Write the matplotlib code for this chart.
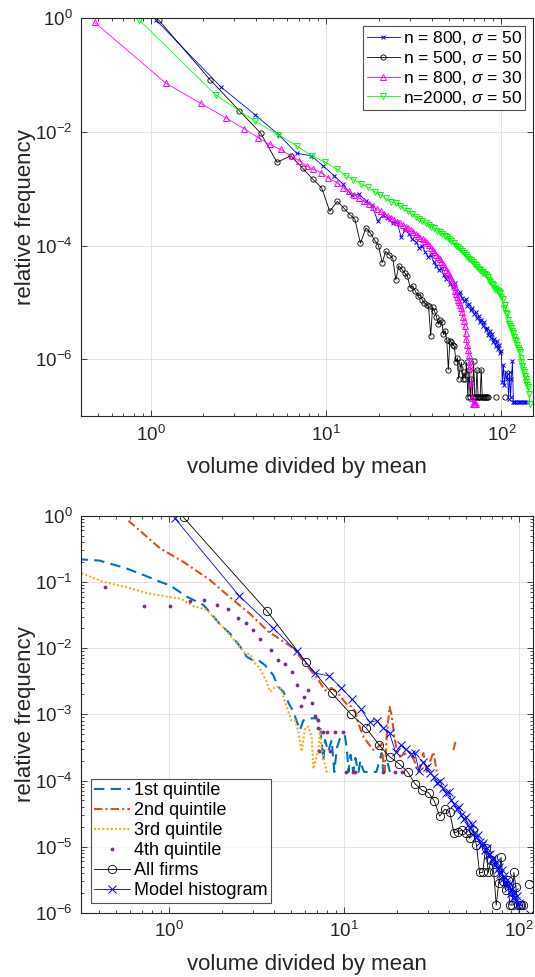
import numpy as np
import matplotlib
matplotlib.use("Agg")
import matplotlib.pyplot as plt
from matplotlib.ticker import LogLocator, NullLocator, NullFormatter

nan = np.nan

# ---- top panel: simulated histograms ----
model_x = [1.08, 2.51, 3.94, 5.37, 6.80, 8.23, 9.66, 11.1, 12.5, 14.0, 15.4, 16.8, 18.2, 19.7, 21.1,
           22.5, 24.0, 25.4, 26.8, 28.3, 29.7, 31.1, 32.6, 34.0, 35.4, 36.8, 38.3, 39.7, 41.1, 42.6,
           44.0, 45.4, 46.9, 48.3, 49.7, 51.1, 52.6, 54.0, 55.4, 56.9, 58.3, 59.7, 61.1, 62.6, 64.0,
           65.4, 66.9, 68.3, 69.7, 71.2, 72.6, 74.0, 75.4, 76.9, 78.3, 79.7, 81.2, 82.6, 84.0, 85.5,
           86.9, 88.3, 89.7, 91.2, 92.6, 94.0, 95.5, 96.9, 98.3, 99.8, 101.2, 102.6, 104.0, 105.5,
           106.9, 108.3, 109.8, 111.2, 112.6, 114.0, 115.5, 116.9, 118.3, 119.8, 122.6, 125.5, 128.3,
           131.2, 134.0, 136.9, 139.7]
model_y = [0.91, 0.062, 0.020, 0.0089, 0.0042, 0.0038, 0.0025, 0.0017, 0.0012, 7.6e-4, 8.0e-4, 6.2e-4,
           5.2e-4, 2.7e-4, 3.4e-4, 3.0e-4, 2.5e-4, 2.6e-4, 1.4e-4, 1.9e-4, 1.6e-4, 1.3e-4, 1.15e-4,
           9.2e-5, 9.8e-5, 7.6e-5, 6.4e-5, 6.8e-5, 5.1e-5, 4.4e-5, 3.7e-5, 4.0e-5, 3.0e-5, 2.6e-5,
           2.8e-5, 2.1e-5, 1.9e-5, 2.2e-5, 1.6e-5, 1.4e-5, 1.5e-5, 1.2e-5, 1.05e-5, 1.15e-5, 8.8e-6,
           9.5e-6, 7.4e-6, 7.9e-6, 6.3e-6, 6.8e-6, 5.3e-6, 5.8e-6, 4.6e-6, 5.0e-6, 3.9e-6, 4.5e-6,
           3.3e-6, 3.6e-6, 2.7e-6, 3.1e-6, 2.4e-6, 2.8e-6, 2.0e-6, 2.3e-6, 1.7e-6, 2.1e-6, 1.5e-6,
           1.8e-6, 1.3e-6, 1.4e-6, 4.0e-7, 8.0e-7, 3.5e-7, 6.0e-7, 4.5e-7, 5.5e-7, 2.0e-7, 6.0e-7,
           2.2e-7, 4.5e-7, 9.5e-7, 1.8e-7, 1.8e-7, 1.8e-7, 1.8e-7, 1.8e-7, 1.8e-7, 1.8e-7, 1.8e-7,
           1.8e-7, 1.8e-7]

n500_x = [1.11, 2.18, 3.20, 4.24, 5.26, 6.28, 7.35, 8.38, 9.45, 10.5, 11.6, 12.6, 13.7, 14.6, 15.7,
          16.9, 17.9, 18.9, 19.9, 20.9, 21.9, 22.9, 24.0, 25.0, 26.0, 27.1, 28.1, 29.1, 30.2, 31.2,
          32.2, 33.3, 34.3, 35.3, 36.4, 37.4, 38.4, 39.5, 40.5, 41.5, 42.6, 43.6, 44.6, 45.7, 46.7,
          47.7, 48.8, 49.8, 50.8, 51.9, 52.9, 53.9, 55.0, 56.0, 57.0, 58.1, 59.1, 60.1, 61.2, 62.2,
          63.2, 64.3, 65.3, 66.3, 67.4, 68.4, 69.4, 70.5, 71.5, 72.5, 73.6, 74.6, 75.6, 76.7, 77.7,
          78.7, 79.8, 80.8, 81.8, 82.9, 84.0, 88.0, 93.3, 100.0, 104.7]
n500_y = [0.93, 0.083, 0.0236, 0.0095, 0.0029, 0.0038, 0.0023, 0.00148, 0.00103, 4.0e-4, 6.0e-4,
          4.6e-4, 3.5e-4, 2.9e-4, 1.1e-4, 2.04e-4, 1.66e-4, 1.25e-4, 1.0e-4, 5.0e-5, 7.9e-5, 6.9e-5,
          6.0e-5, 2.5e-5, 4.4e-5, 3.8e-5, 3.3e-5, 2.9e-5, 1.8e-5, 1.95e-5, 1.6e-5, 1.3e-5, 1.35e-5,
          1.12e-5, 9.8e-6, 9.1e-6, 8.7e-6, 2.6e-6, 8.3e-6, 7.1e-6, 5.6e-6, 4.1e-6, 5.0e-6, 4.5e-6,
          2.75e-6, 3.2e-6, 2.2e-6, 6.6e-7, 2.1e-6, 2.0e-6, 1.8e-6, 1.7e-6, 8.9e-7, 1.07e-6, 4.5e-7,
          6.9e-7, 8.9e-7, 4.5e-7, 5.9e-7, 4.6e-7, 8.9e-7, 2.2e-7, 6.6e-7, 2.2e-7, 4.6e-7, 2.2e-7,
          9.3e-7, 2.2e-7, 2.2e-7, 6.6e-7, 2.2e-7, 2.2e-7, 2.2e-7, 6.6e-7, 2.2e-7, 2.2e-7, 2.2e-7,
          2.2e-7, 2.2e-7, 2.2e-7, 2.2e-7, nan, 2.2e-7, nan, 2.2e-7]

s30_x = [0.48, 1.22, 1.93, 2.68, 3.42, 4.10, 4.78, 5.51, 6.36, 7.03, 7.74, 8.45, 9.42, 10.3, 11.5,
         12.5, 13.5, 14.5, 15.5, 16.5, 17.5, 18.5, 19.5, 20.5, 21.5, 22.5, 23.5, 24.5, 25.5, 26.5,
         27.5, 28.5, 29.5, 30.5, 31.5, 32.5, 33.5, 34.5, 35.5, 36.5, 37.5, 38.5, 39.5, 40.5, 41.5,
         42.5, 43.5, 44.5, 45.5, 46.5, 47.5, 48.5, 49.5, 50.5, 51.5, 52.5, 53.3, 54.0, 54.7, 55.4,
         56.1, 56.8, 57.5, 58.2, 58.9, 59.6, 60.3, 61.0, 61.7, 62.4, 63.1, 63.8, 64.5, 65.2, 65.9,
         66.6, 67.3, 68.0, 68.7, 69.4, 70.1, 70.8, 71.5]
s30_y = [0.84, 0.072, 0.0316, 0.0177, 0.0113, 0.0079, 0.0060, 0.0049, 0.0037, 0.0031, 0.0025,
         0.0022, 0.0019, 0.00156, 0.00128, 0.00104, 9.1e-4, 7.8e-4, 6.8e-4, 6.0e-4, 5.4e-4, 4.8e-4,
         4.4e-4, 4.0e-4, 3.6e-4, 3.3e-4, 3.0e-4, 2.8e-4, 2.6e-4, 2.45e-4, 2.3e-4, 2.15e-4, 2.0e-4,
         1.88e-4, 1.74e-4, 1.6e-4, 1.48e-4, 1.38e-4, 1.29e-4, 1.2e-4, 1.12e-4, 1.01e-4, 9.1e-5,
         8.3e-5, 7.6e-5, 6.9e-5, 6.3e-5, 5.75e-5, 5.2e-5, 4.7e-5, 4.2e-5, 3.7e-5, 3.4e-5, 3.0e-5,
         2.7e-5, 2.4e-5, 2.1e-5, 1.86e-5, 1.6e-5, 1.41e-5, 1.26e-5, 1.12e-5, 1.0e-5, 8.9e-6, 7.9e-6,
         6.8e-6, 5.6e-6, 4.7e-6, 3.8e-6, 2.95e-6, 2.24e-6, 1.78e-6, 1.45e-6, 1.2e-6, 9.3e-7, 7.6e-7,
         3.9e-7, 2.1e-7, 1.66e-7, 1.66e-7, 1.66e-7, 1.66e-7, 1.66e-7]

n2000_x = [0.86, 2.36, 3.93, 5.34, 6.85, 8.27, 9.93, 11.5, 13.0, 14.3, 15.9, 17.4, 18.9, 20.4, 21.9,
           23.4, 24.9, 26.4, 27.9, 29.4, 30.9, 32.4, 33.9, 35.4, 36.9, 38.4, 39.9, 41.4, 42.9, 44.4,
           45.9, 47.4, 48.9, 50.4, 51.9, 53.4, 54.9, 56.4, 57.9, 59.4, 60.9, 62.4, 63.9, 65.4, 66.9,
           68.4, 69.9, 71.4, 72.9, 74.4, 75.9, 77.4, 78.9, 80.4, 81.9, 83.4, 84.9, 86.4, 87.9, 89.4,
           90.9, 92.4, 93.9, 95.4, 96.9, 98.4, 99.9, 101.4, 102.9, 104.4, 105.9, 107.4, 108.9, 110.4,
           111.9, 113.4, 114.9, 116.4, 117.9, 119.4, 120.9, 122.4, 123.9, 125.4, 126.9, 128.4, 129.9,
           131.4, 132.9, 134.4, 135.9, 137.4, 138.9, 140.4, 141.9, 143.4, 144.9]
n2000_y = [0.93, 0.044, 0.0154, 0.0089, 0.0056, 0.0038, 0.0029, 0.0022, 0.0017, 0.00145, 0.0012,
           1.05e-3, 8.9e-4, 7.8e-4, 6.8e-4, 5.9e-4, 5.5e-4, 5.0e-4, 4.5e-4, 4.0e-4, 3.6e-4, 3.24e-4,
           2.95e-4, 2.7e-4, 2.5e-4, 2.3e-4, 2.14e-4, 2.0e-4, 1.84e-4, 1.72e-4, 1.6e-4, 1.48e-4,
           1.4e-4, 1.32e-4, 1.2e-4, 1.1e-4, 1.0e-4, 9.4e-5, 8.7e-5, 8.0e-5, 7.4e-5, 6.9e-5, 6.3e-5,
           5.9e-5, 5.5e-5, 5.1e-5, 4.8e-5, 4.5e-5, 4.2e-5, 3.9e-5, 3.7e-5, 3.5e-5, 3.3e-5, 3.16e-5,
           3.0e-5, 2.75e-5, 2.5e-5, 2.3e-5, 2.14e-5, 2.0e-5, 1.82e-5, 1.74e-5, 1.66e-5, 1.62e-5,
           1.55e-5, 1.45e-5, 1.26e-5, 1.15e-5, 7.9e-6, 8.9e-6, 6.6e-6, 6.3e-6, 5.0e-6, 4.2e-6, 3.8e-6,
           3.5e-6, 3.16e-6, 2.95e-6, 2.5e-6, 2.2e-6, 2.1e-6, 1.78e-6, 1.58e-6, 1.45e-6, 1.32e-6,
           1.07e-6, 8.9e-7, 7.6e-7, 6.6e-7, 5.9e-7, 5.1e-7, 4.6e-7, 4.0e-7, 3.6e-7, 3.2e-7, 2.5e-7,
           1.66e-7]

# ---- bottom panel: data by size quintile ----
q1_x = [0.30, 0.40, 0.57, 0.72, 0.89, 1.01, 1.26, 1.57, 1.71, 1.95, 2.23, 2.55, 2.78, 3.00, 3.24,
        3.54, 3.94, 4.21, 4.50, 4.81, 5.13, 5.37, 5.61, 5.85, 6.25, 6.98, 7.29, 7.62, 7.78, 8.13,
        8.50, 8.80, 9.10, 9.49, 10.1, 10.4, 10.6, 10.9, 11.3, 11.6, 11.9, 12.1, 12.4, 12.6, 13.0,
        13.8, 14.5, 15.3, 16.4, 16.8, 17.8, 18.3]
q1_y = [0.22, 0.21, 0.16, 0.126, 0.10, 0.089, 0.060, 0.045, 0.035, 0.023, 0.0166, 0.0105, 0.0074,
        0.0066, 0.0066, 0.0055, 0.0039, 0.0026, 0.0022, 0.0015, 0.0011, 7.8e-4, 5.8e-4, 8.1e-4,
        8.7e-4, 8.7e-4, 6.9e-4, 2.0e-4, 4.1e-4, 2.75e-4, 4.1e-4, 1.35e-4, 3.1e-4, 4.4e-4, 4.9e-4,
        2.9e-4, 1.35e-4, 2.45e-4, 1.35e-4, 2.2e-4, 1.6e-4, 1.35e-4, 2.0e-4, 1.7e-4, 1.35e-4,
        1.35e-4, 1.35e-4, 1.35e-4, 2.6e-4, 1.35e-4, 1.8e-4, 1.35e-4]

q2_x = [0.586, 0.889, 1.21, 1.71, 2.33, 2.90, 3.70, 5.13, 6.12, 7.13, 7.79, 8.5, 9.49, 10.4, 11.1,
        11.6, 12.1, 12.9, 13.8, 14.7, 15.4, 16.4, 16.8, 17.1, 17.5, 18.2, 18.7, 19.4, 20.0, 20.9,
        22.0, 23.8, 25.2, 26.6, 28.4, 29.7, 32.4, 33.9, 38.0, 42.2, 43.6]
q2_y = [0.84, 0.32, 0.20, 0.107, 0.053, 0.033, 0.0177, 0.010, 0.0055, 0.0033, 0.0023, 0.0025,
        0.0019, 0.0014, 0.0013, 0.0011, 7.2e-4, 4.6e-4, 3.6e-4, 2.9e-4, 3.1e-4, 3.6e-4, 1.8e-4,
        1.35e-4, 4.4e-4, 1.3e-3, 9.8e-4, 4.6e-4, 2.9e-4, 2.3e-4, 2.5e-4, 2.7e-4, 2.0e-4, 1.35e-4,
        2.6e-4, 1.35e-4, 2.7e-4, 1.35e-4, nan, 2.9e-4, 4.1e-4]

q3_x = [0.30, 0.42, 0.573, 0.745, 0.97, 1.16, 1.38, 1.64, 1.87, 2.14, 2.44, 2.72, 2.90, 3.10, 3.31,
        3.61, 3.78, 4.04, 4.31, 4.70, 5.0, 5.25, 5.48, 5.73, 5.99, 6.25, 6.54, 6.68, 7.13, 7.29,
        7.46, 7.96, 8.3]
q3_y = [0.143, 0.10, 0.083, 0.068, 0.060, 0.056, 0.043, 0.038, 0.026, 0.0178, 0.0117, 0.0083,
        0.0081, 0.0059, 0.0049, 0.0031, 0.0022, 0.0026, 0.0026, 0.0013, 8.1e-4, 8.1e-4, 5.5e-4,
        2.75e-4, 6.2e-4, 6.5e-4, 4.6e-4, 1.5e-4, 2.9e-4, 5.8e-4, 2.9e-4, 1.35e-4, 1.35e-4]

q4_x = [0.43, 0.72, 1.01, 1.31, 1.59, 1.87, 2.16, 2.47, 2.75, 3.03, 3.31, 3.81, 4.22, 4.60, 5.07,
        5.37, 5.66, 5.93, 6.25, 6.54, 6.82, 7.07, 7.13, 7.22, 7.62, 8.03, 8.32, 8.89, 9.9, 10.3,
        11.3, 11.6, 16.8, 19.5, 21.5]
q4_y = [0.085, 0.043, 0.043, 0.052, 0.054, 0.044, 0.039, 0.028, 0.024, 0.019, 0.0135, 0.0093,
        0.0066, 0.0058, 0.0043, 0.0028, 0.00135, 0.0018, 0.0023, 0.0015, 9.3e-4, 8.1e-4, 6.3e-4,
        2.75e-4, 5.5e-4, 5.5e-4, 2.75e-4, 5.5e-4, 5.5e-4, 1.35e-4, 1.35e-4, 1.35e-4, 1.35e-4,
        1.35e-4, 1.35e-4]

firms_x = [1.21, 3.64, 6.07, 8.50, 10.9, 13.4, 15.8, 18.2, 20.7, 23.1, 25.5, 28.0, 30.4, 32.8, 35.2,
           37.7, 40.1, 42.5, 45.0, 47.4, 49.8, 52.2, 54.7, 57.1, 59.5, 62.0, 64.4, 66.8, 69.2, 71.7,
           74.1, 76.5, 78.9, 81.4, 83.8, 86.2, 88.6, 91.1, 93.5, 95.9, 98.3, 100.8, 103.2, 105.6,
           110.0, 114.0]
firms_y = [0.94, 0.036, 0.0061, 0.0021, 0.00102, 6.2e-4, 3.5e-4, 2.3e-4, 1.78e-4, 1.35e-4, 8.9e-5,
           7.1e-5, 6.6e-5, 4.9e-5, 2.9e-5, 3.7e-5, 3.4e-5, 1.62e-5, 1.7e-5, 1.78e-5, 1.6e-5, 1.35e-5,
           1.78e-5, 1.07e-5, 4.1e-6, 4.1e-6, 9.5e-6, 4.1e-6, 6.3e-6, 4.1e-6, 1.32e-6, 2.8e-6, 6.9e-6,
           3.0e-6, 2.2e-6, 3.2e-6, 1.32e-6, 1.32e-6, 4.1e-6, 2.5e-6, 1.32e-6, 1.32e-6, 1.32e-6,
           1.32e-6, nan, 2.75e-6]

top_labels = ['n = 800, $\\mathit{\\sigma}$ = 50', 'n = 500, $\\mathit{\\sigma}$ = 50',
              'n = 800, $\\mathit{\\sigma}$ = 30', 'n=2000, $\\mathit{\\sigma}$ = 50']
bottom_labels = ['1st quintile', '2nd quintile', '3rd quintile', '4th quintile', 'All firms',
                 'Model histogram']

plt.rcParams['font.family'] = ['Liberation Sans', 'DejaVu Sans']
plt.rcParams['mathtext.fontset'] = 'custom'
plt.rcParams['mathtext.rm'] = 'Liberation Sans'
plt.rcParams['mathtext.it'] = 'Liberation Sans:italic'
plt.rcParams['mathtext.default'] = 'regular'

txt = '#262626'
grid_c = '#dedede'


def style_axes(ax, xlim, ylim, yticks):
    ax.set_xscale('log')
    ax.set_yscale('log')
    ax.set_xticks([1, 10, 100])
    ax.set_yticks(yticks)
    ax.set_xlim(*xlim)
    ax.set_ylim(*ylim)
    ax.grid(True, which='major', color=grid_c, linewidth=0.6)
    ax.set_axisbelow(True)
    for s in ax.spines.values():
        s.set_color(txt)
        s.set_linewidth(0.8)
    ax.tick_params(which='both', direction='in', top=True, right=True, colors=txt,
                   labelsize=13.5, width=0.6)
    ax.tick_params(which='major', length=4, pad=6)
    ax.tick_params(which='minor', length=2)
    ax.xaxis.set_minor_locator(LogLocator(base=10, subs=np.arange(2, 10), numticks=20))
    ax.xaxis.set_minor_formatter(NullFormatter())
    ax.set_xlabel('volume divided by mean', fontsize=16, color=txt, labelpad=9)
    ax.set_ylabel('relative frequency', fontsize=16, color=txt, labelpad=-1)


fig = plt.figure(figsize=(5.35, 9.77), dpi=100)

# top panel
ax1 = fig.add_axes([0.151, 0.574, 0.845, 0.4075])
ax1.plot(model_x, model_y, '-x', color='b', lw=0.6, ms=3.5, mew=0.7, label=top_labels[0])
ax1.plot(n500_x, n500_y, '-o', color='k', lw=0.6, ms=3.8, mew=0.6, mfc='none', label=top_labels[1])
ax1.plot(s30_x, s30_y, '-^', color='#ff00ff', lw=0.6, ms=4.5, mew=0.7, mfc='none', label=top_labels[2])
ax1.plot(n2000_x, n2000_y, '-v', color='#00ff00', lw=0.6, ms=4.5, mew=0.7, mfc='none', label=top_labels[3])
style_axes(ax1, (0.4, 151), (1e-7, 1), [1e-6, 1e-4, 1e-2, 1])
ax1.yaxis.set_minor_locator(NullLocator())
leg1 = ax1.legend(loc='upper right', fontsize=12.5, frameon=True, fancybox=False, borderpad=0.2,
                  labelspacing=0.1, handlelength=1.9, handletextpad=0.15, borderaxespad=0.45)
leg1.get_frame().set_edgecolor(txt)
leg1.get_frame().set_linewidth(0.8)
for t in leg1.get_texts():
    t.set_color('k')

# bottom panel
ax2 = fig.add_axes([0.151, 0.0655, 0.845, 0.4067])
ax2.plot(q1_x, q1_y, color='#0072bd', lw=1.5, ls=(0, (5, 3)), label=bottom_labels[0])
ax2.plot(q2_x, q2_y, color='#d95319', lw=1.5, ls=(0, (4, 1.5, 1, 1.5)), label=bottom_labels[1])
ax2.plot(q3_x, q3_y, color='#edb120', lw=1.5, ls=(0, (1, 1)), label=bottom_labels[2])
ax2.plot(q4_x, q4_y, '.', color='#7e2f8e', ms=3.5, label=bottom_labels[3])
ax2.plot(firms_x, firms_y, '-o', color='k', lw=0.6, ms=6, mew=0.6, mfc='none', label=bottom_labels[4])
ax2.plot(model_x, model_y, '-x', color='b', lw=0.6, ms=6, mew=0.7, label=bottom_labels[5])
style_axes(ax2, (0.313, 120), (1e-6, 1), [1e-6, 1e-5, 1e-4, 1e-3, 1e-2, 1e-1, 1])
ax2.yaxis.set_minor_locator(LogLocator(base=10, subs=np.arange(2, 10), numticks=20))
ax2.yaxis.set_minor_formatter(NullFormatter())
leg2 = ax2.legend(loc='lower left', fontsize=13, frameon=True, fancybox=False, borderpad=0.2,
                  labelspacing=0.17, handlelength=2.0, handletextpad=0.2, borderaxespad=0.55)
leg2.get_frame().set_edgecolor(txt)
leg2.get_frame().set_linewidth(0.8)
for t in leg2.get_texts():
    t.set_color('k')

fig.savefig('out.png', dpi=100)
